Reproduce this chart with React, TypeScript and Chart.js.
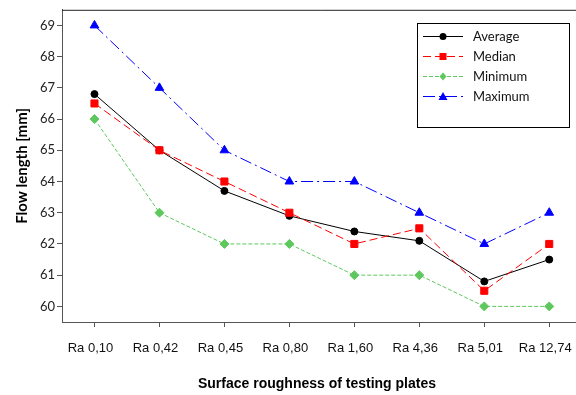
import React, { useEffect, useRef } from "react";
import { Chart, registerables } from "chart.js";

Chart.register(...registerables);

const categories = ["Ra 0,10", "Ra 0,42", "Ra 0,45", "Ra 0,80", "Ra 1,60", "Ra 4,36", "Ra 5,01", "Ra 12,74"];
const averageValues = [66.8, 65.0, 63.7, 62.9, 62.4, 62.1, 60.8, 61.5];
const medianValues = [66.5, 65.0, 64.0, 63.0, 62.0, 62.5, 60.5, 62.0];
const minimumValues = [66, 63, 62, 62, 61, 61, 60, 60];
const maximumValues = [69, 67, 65, 64, 64, 63, 62, 63];
const yTickValues = [60, 61, 62, 63, 64, 65, 66, 67, 68, 69];

const GREEN = "#5ec85e";

const framePlugin = {
  id: "frameAndLegend",
  afterDraw(chart: any) {
    const ctx = chart.ctx as CanvasRenderingContext2D;
    const ca = chart.chartArea;
    ctx.save();
    ctx.strokeStyle = "#222";
    ctx.lineWidth = 1;
    ctx.beginPath();
    ctx.moveTo(ca.left, ca.top + 0.5);
    ctx.lineTo(ca.right, ca.top + 0.5);
    ctx.lineTo(ca.right, ca.bottom);
    ctx.stroke();

    ctx.fillStyle = "#000";
    ctx.font = "bold 14px 'Liberation Sans', Arial, sans-serif";
    ctx.textAlign = "center";
    ctx.textBaseline = "middle";
    ctx.fillText("Surface roughness of testing plates", 317, 384);

    const bx = 417.5, by = 23.5, bw = 152, bh = 104;
    ctx.strokeStyle = "#000";
    ctx.lineWidth = 1;
    ctx.strokeRect(bx, by, bw, bh);
    ctx.font = "13px Lato, 'Open Sans', sans-serif";
    ctx.textAlign = "left";
    chart.data.datasets.forEach((ds: any, i: number) => {
      const y = 36 + i * 20;
      ctx.save();
      ctx.strokeStyle = ds.borderColor;
      ctx.lineWidth = 1;
      ctx.setLineDash(ds.borderDash || []);
      ctx.beginPath();
      ctx.moveTo(423, y + 0.5);
      ctx.lineTo(463, y + 0.5);
      ctx.stroke();
      ctx.setLineDash([]);
      ctx.fillStyle = ds.pointBackgroundColor;
      const cx = 443;
      const style = ds.pointStyle;
      ctx.beginPath();
      if (style === "circle") {
        ctx.arc(cx, y + 0.5, 3.5, 0, Math.PI * 2);
      } else if (style === "rect") {
        ctx.rect(cx - 3.5, y - 3, 7, 7);
      } else if (style === "rectRot") {
        ctx.moveTo(cx, y - 3.5);
        ctx.lineTo(cx + 3.5, y + 0.5);
        ctx.lineTo(cx, y + 4.5);
        ctx.lineTo(cx - 3.5, y + 0.5);
        ctx.closePath();
      } else if (style === "triangle") {
        ctx.moveTo(cx, y - 4);
        ctx.lineTo(cx + 4.5, y + 4);
        ctx.lineTo(cx - 4.5, y + 4);
        ctx.closePath();
      }
      ctx.fill();
      ctx.restore();
      ctx.fillStyle = "#111";
      ctx.textBaseline = "middle";
      ctx.fillText(ds.label, 473, y + 1);
    });
    ctx.restore();
  },
};

export default function App() {
  const canvasRef = useRef<HTMLCanvasElement | null>(null);

  useEffect(() => {
    if (!canvasRef.current) return;
    const chart = new Chart(canvasRef.current, {
      type: "line",
      data: {
        labels: categories,
        datasets: [
          {
            label: "Average",
            data: averageValues,
            borderColor: "#000000",
            backgroundColor: "#000000",
            pointBackgroundColor: "#000000",
            pointBorderColor: "#000000",
            pointStyle: "circle",
            pointRadius: 3.5,
            borderWidth: 1,
            order: 1,
          },
          {
            label: "Median",
            data: medianValues,
            borderColor: "#ff0000",
            backgroundColor: "#ff0000",
            pointBackgroundColor: "#ff0000",
            pointBorderColor: "#ff0000",
            pointStyle: "rect",
            pointRadius: 5,
            borderWidth: 1,
            borderDash: [8, 4],
            order: 0,
          },
          {
            label: "Minimum",
            data: minimumValues,
            borderColor: GREEN,
            backgroundColor: GREEN,
            pointBackgroundColor: GREEN,
            pointBorderColor: GREEN,
            pointStyle: "rectRot",
            pointRadius: 4.5,
            borderWidth: 1,
            borderDash: [4, 2],
            order: 2,
          },
          {
            label: "Maximum",
            data: maximumValues,
            borderColor: "#0000ff",
            backgroundColor: "#0000ff",
            pointBackgroundColor: "#0000ff",
            pointBorderColor: "#0000ff",
            pointStyle: "triangle",
            pointRadius: 5,
            borderWidth: 1,
            borderDash: [12, 4, 2, 4],
            order: 3,
          },
        ],
      },
      options: {
        responsive: false,
        animation: false,
        layout: { padding: { top: 9, left: 0, right: 4, bottom: 0 } },
        plugins: { legend: { display: false }, tooltip: { enabled: false } },
        scales: {
          x: {
            type: "category",
            offset: true,
            afterFit: (s: any) => {
              s.height = 73;
            },
            grid: { drawOnChartArea: false, tickLength: 5, color: "#555", offset: false },
            border: { color: "#555", width: 1 },
            ticks: {
              color: "#111",
              padding: 14,
              labelOffset: -4,
              maxRotation: 0,
              autoSkip: false,
              font: { family: "'Liberation Sans', Arial, sans-serif", size: 13 },
            },
          },
          y: {
            min: 59.5,
            max: 69.5,
            afterFit: (s: any) => {
              s.width = 62;
            },
            afterBuildTicks: (s: any) => {
              s.ticks = yTickValues.map((v) => ({ value: v }));
            },
            grid: { drawOnChartArea: false, tickLength: 5, color: "#555" },
            border: { color: "#555", width: 1 },
            ticks: {
              color: "#222",
              padding: 2,
              font: { family: "Lato, 'Open Sans', sans-serif", size: 13 },
            },
            title: {
              display: true,
              text: "Flow length [mm]",
              color: "#000",
              padding: { top: 13, bottom: 0 },
              font: { family: "Lato, 'Open Sans', sans-serif", size: 15, weight: "bold" },
            },
          },
        },
      },
      plugins: [framePlugin],
    } as any);
    return () => chart.destroy();
  }, []);

  return (
    <div style={{ position: "fixed", left: 0, top: 0, width: 576, height: 395, overflow: "hidden", background: "#fff" }}>
      <canvas ref={canvasRef} width={590} height={395} style={{ display: "block" }} />
    </div>
  );
}
